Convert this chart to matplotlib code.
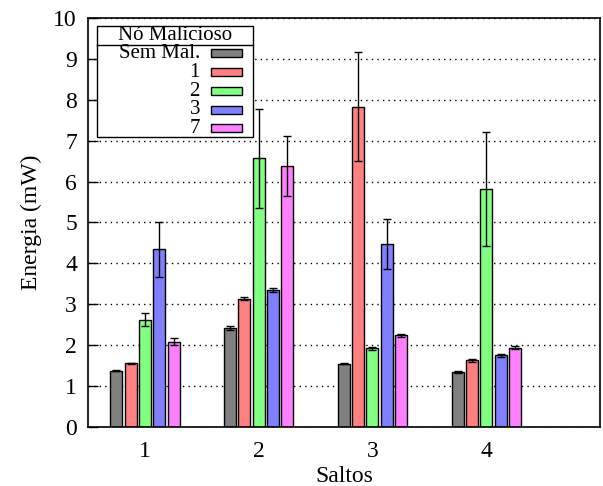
import matplotlib
matplotlib.use("Agg")
import matplotlib.pyplot as plt
import numpy as np
from matplotlib.patches import Rectangle
from matplotlib.lines import Line2D

plt.rcParams['font.family'] = ['Liberation Serif', 'DejaVu Serif']
plt.rcParams['font.size'] = 17

hops = [1, 2, 3, 4]
series_labels = ["Sem Mal.", "1", "2", "3", "7"]
colors = ["#808080", "#ff8080", "#80ff80", "#8080ff", "#ff80ff"]

sem_mal = [1.38, 2.42, 1.55, 1.35]
sem_mal_err = [0.02, 0.05, 0.02, 0.02]
mal1 = [1.56, 3.14, 7.83, 1.63]
mal1_err = [0.01, 0.03, 1.33, 0.04]
mal2 = [2.62, 6.57, 1.92, 5.82]
mal2_err = [0.16, 1.21, 0.03, 1.39]
mal3 = [4.34, 3.36, 4.47, 1.75]
mal3_err = [0.67, 0.05, 0.61, 0.03]
mal7 = [2.09, 6.38, 2.24, 1.94]
mal7_err = [0.08, 0.74, 0.03, 0.03]

values = [sem_mal, mal1, mal2, mal3, mal7]
errors = [sem_mal_err, mal1_err, mal2_err, mal3_err, mal7_err]

fig = plt.figure(figsize=(6.03, 4.86), dpi=100)
ax = fig.add_axes([88/603, 59/486, 512/603, 409/486])

x = np.array(hops, dtype=float)
step = 0.126
width = 0.106
for i, (vals, errs, c) in enumerate(zip(values, errors, colors)):
    pos = x + (i - 2) * step
    ax.bar(pos, vals, width=width, color=c, edgecolor='black', linewidth=1.0, zorder=2)
    ax.errorbar(pos, vals, yerr=errs, fmt='none', ecolor='black', elinewidth=1.0,
                capsize=3, capthick=1.0, zorder=3)

ax.set_xlim(0.5, 5.0)
ax.set_ylim(0, 10)
ax.set_xticks(hops)
ax.set_yticks(range(0, 11))
ax.tick_params(axis='y', direction='in', length=7, width=1, right=False, pad=8)
ax.tick_params(axis='x', length=0, pad=10)
ax.yaxis.grid(True, linestyle=(0, (1, 3)), color='black', linewidth=1.0, zorder=0)
ax.set_axisbelow(True)
for s in ax.spines.values():
    s.set_linewidth(1.2)

ax.set_xlabel("Saltos", labelpad=3)
ax.set_ylabel("Energia (mW)", labelpad=8)

# Legend drawn manually (title box + right-aligned labels with swatches on the right)
def ax_xy(px, py):
    return (px - 88) / 512.0, (427 - py) / 409.0

x0, y0 = ax_xy(97, 137)
x1, y1 = ax_xy(253, 26)
ax.add_patch(Rectangle((x0, y0), x1 - x0, y1 - y0, transform=ax.transAxes,
                       facecolor='white', edgecolor='black', linewidth=1.0, zorder=5))
_, yl = ax_xy(0, 45)
ax.add_line(Line2D([x0, x1], [yl, yl], transform=ax.transAxes, color='black',
                   linewidth=1.0, zorder=6))
tx, ty = ax_xy(175, 35)
ax.text(tx, ty, "Nó Malicioso", transform=ax.transAxes, ha='center', va='center',
        fontsize=15, zorder=7)
rows_py = [53, 72.5, 91, 110, 128.5]
for lab, c, py in zip(series_labels, colors, rows_py):
    lx, ly = ax_xy(200, py)
    ax.text(lx, ly, lab, transform=ax.transAxes, ha='right', va='center',
            fontsize=15, zorder=7)
    sx, sy = ax_xy(211, py + 4)
    ex, ey = ax_xy(242, py - 4)
    ax.add_patch(Rectangle((sx, sy), ex - sx, ey - sy, transform=ax.transAxes,
                           facecolor=c, edgecolor='black', linewidth=1.0, zorder=7))

fig.savefig("out.png", dpi=100)
